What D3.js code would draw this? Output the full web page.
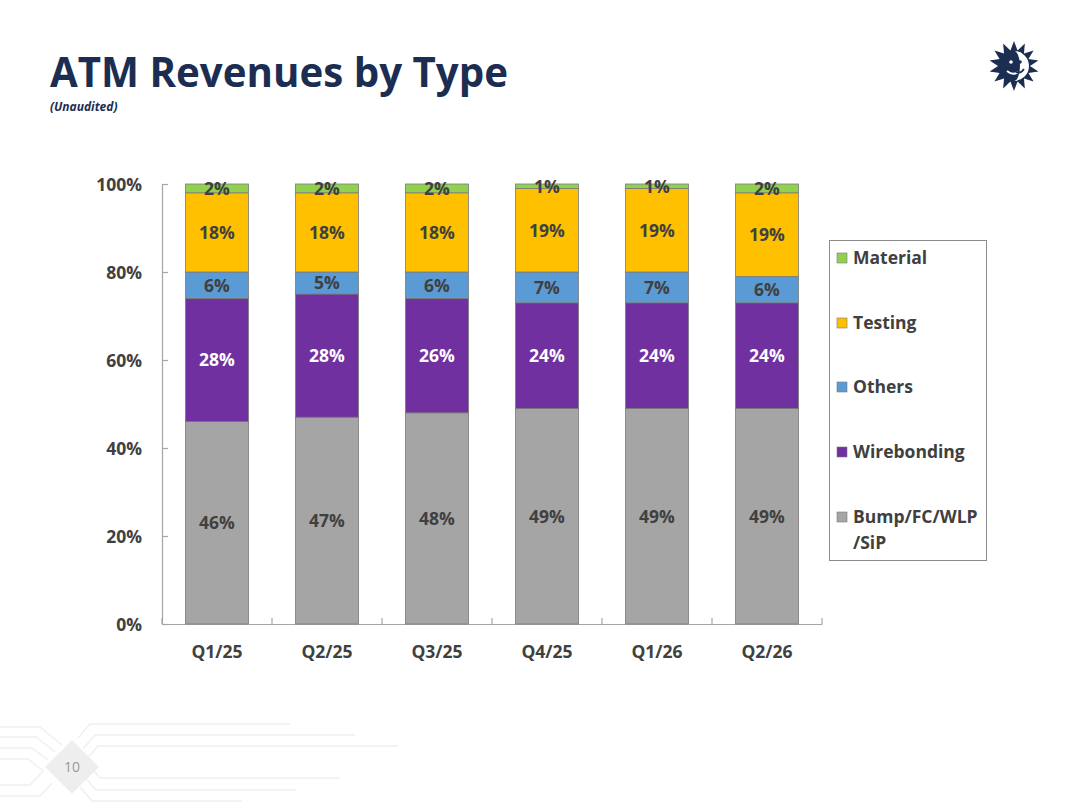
<!DOCTYPE html>
<html><head><meta charset="utf-8">
<script src="https://cdn.jsdelivr.net/npm/d3@7"></script>
<style>html,body{margin:0;padding:0;background:#fff;}svg{display:block;}</style>
</head><body>
<script>
const categories = ["Q1/25","Q2/25","Q3/25","Q4/25","Q1/26","Q2/26"];
const seriesNames = ["Bump/FC/WLP/SiP","Wirebonding","Others","Testing","Material"];
const bump = [46,47,48,49,49,49];
const wirebonding = [28,28,26,24,24,24];
const others = [6,5,6,7,7,6];
const testing = [18,18,18,19,19,19];
const material = [2,2,2,1,1,2];
const yTicks = [0,20,40,60,80,100];
const colors = ["#a5a5a5","#7030a0","#5b9bd5","#ffc000","#92d050"];
const labelColors = ["#404040","#ffffff","#404040","#404040","#404040"];
const legendOrder = ["Material","Testing","Others","Wirebonding","Bump/FC/WLP/SiP"];

const W=1080,H=810;
const FONT="'Open Sans', 'Noto Sans', sans-serif";
const svg=d3.select("body").append("svg").attr("width",W).attr("height",H);
svg.append("rect").attr("width",W).attr("height",H).attr("fill","#fff");

// bottom-left decoration
const deco=svg.append("g").attr("fill","none").attr("stroke","#f0f0f0").attr("stroke-width",1.5);
[[0,727,40,727,62,745],[0,737,36,737,55,752],[0,748,32,748,48,760],[0,759,28,759,42,770],[0,785,30,785,44,770],[0,796,40,796,52,783]].forEach(p=>{
  deco.append("polyline").attr("points",`${p[0]},${p[1]} ${p[2]},${p[3]} ${p[4]},${p[5]}`);
});
[[90,724,200],[95,735,260],[98,746,300],[100,778,240],[96,790,200],[92,801,150]].forEach((p,i)=>{
  const x0=p[0], y0=p[1];
  deco.append("polyline").attr("points",`${x0-12},${y0+(i<3?14:-14)} ${x0},${y0} ${x0+p[2]},${y0}`);
});
svg.append("rect").attr("x",-19).attr("y",-19).attr("width",38).attr("height",38)
  .attr("fill","#eeeeee").attr("transform","translate(72,767) rotate(45)");
svg.append("text").attr("x",72).attr("y",772).attr("text-anchor","middle")
  .attr("font-family",FONT).attr("font-size",14).attr("fill","#999").text("10");

// title
const title=svg.append("text").attr("x",50).attr("y",87).attr("font-family",FONT)
  .attr("font-weight",700).attr("font-size",40).attr("fill","#1c2d52").text("ATM Revenues by Type");
const tl=title.node().getComputedTextLength();
title.attr("font-size",40*458/tl);
svg.append("text").attr("x",50).attr("y",111).attr("font-family",FONT).attr("font-weight",700)
  .attr("font-style","italic").attr("font-size",12).attr("fill","#1c2d52").text("(Unaudited)");

// logo
const lg=svg.append("g").attr("transform","translate(1014,66)");
const pts=[];const N=14;
for(let i=0;i<2*N;i++){const r=i%2===0?25:16;const a=i*Math.PI/N-Math.PI/2;pts.push([r*Math.cos(a),r*Math.sin(a)]);}
lg.append("polygon").attr("points",pts.map(p=>p.join(",")).join(" ")).attr("fill","#1c2d52");
lg.append("path").attr("d","M0,-15 A15,15 0 0 1 0,15 A6,15 0 0 0 0,-15Z").attr("fill","#fff");
lg.append("circle").attr("cx",-3).attr("cy",-4).attr("r",1.8).attr("fill","#fff");
lg.append("path").attr("d","M-7,5 Q-1,10 4,6").attr("fill","none").attr("stroke","#fff").attr("stroke-width",2);
lg.append("circle").attr("cx",6).attr("cy",-4).attr("r",1.8).attr("fill","#1c2d52");
lg.append("path").attr("d","M2,6 Q7,8 10,3").attr("fill","none").attr("stroke","#1c2d52").attr("stroke-width",1.6);

// chart
const x0=162,x1=822,yTop=184,yBot=624;
const x=d3.scaleBand().domain(categories).range([x0,x1]).paddingInner(0.427).paddingOuter(0.2135);
const y=d3.scaleLinear().domain([0,100]).range([yBot,yTop]);

const rows=categories.map((c,i)=>({cat:c,"Bump/FC/WLP/SiP":bump[i],"Wirebonding":wirebonding[i],"Others":others[i],"Testing":testing[i],"Material":material[i]}));
const stack=d3.stack().keys(seriesNames)(rows);

// axes
const yAxis=svg.append("g").attr("transform",`translate(${x0},0)`)
  .call(d3.axisLeft(y).tickValues(yTicks).tickFormat(d=>d+"%").tickSizeInner(-6).tickSizeOuter(-6).tickPadding(20));
yAxis.select(".domain").attr("stroke","#a6a6a6").attr("stroke-width",1.2);
yAxis.selectAll(".tick line").attr("stroke","#a6a6a6").attr("stroke-width",1.2);
yAxis.selectAll(".tick text").attr("font-family",FONT).attr("font-weight",700).attr("font-size",17.5).attr("fill","#404040").attr("dy","0.35em");

const xAxis=svg.append("g").attr("transform",`translate(0,${yBot})`)
  .call(d3.axisBottom(x).tickSize(0).tickPadding(22));
xAxis.select(".domain").attr("stroke","#a6a6a6").attr("stroke-width",1.2);
xAxis.selectAll(".tick text").attr("font-family",FONT).attr("font-weight",700).attr("font-size",17.5).attr("fill","#404040");
const step=x.step();
svg.append("g").selectAll("line").data(d3.range(categories.length+1)).join("line")
  .attr("x1",i=>x0+i*step).attr("x2",i=>x0+i*step).attr("y1",yBot).attr("y2",yBot-6)
  .attr("stroke","#a6a6a6").attr("stroke-width",1.2);

// bars
const layers=svg.append("g").selectAll("g").data(stack).join("g")
  .attr("fill",(d,i)=>colors[i]);
layers.selectAll("rect").data(d=>d).join("rect")
  .attr("x",d=>x(d.data.cat)).attr("width",x.bandwidth())
  .attr("y",d=>y(d[1])).attr("height",d=>y(d[0])-y(d[1]))
  .attr("stroke","#7a7a7a").attr("stroke-width",0.8);

// labels
const lab=svg.append("g").selectAll("g").data(stack).join("g");
lab.each(function(s,si){
  d3.select(this).selectAll("text").data(s).join("text")
    .attr("x",d=>x(d.data.cat)+x.bandwidth()/2)
    .attr("y",d=>(y(d[0])+y(d[1]))/2)
    .attr("dy","0.36em").attr("text-anchor","middle")
    .attr("font-family",FONT).attr("font-weight",700).attr("font-size",17.5)
    .attr("fill",labelColors[si]).text(d=>(d[1]-d[0])+"%");
});

// legend
svg.append("rect").attr("x",829.5).attr("y",240.5).attr("width",157).attr("height",320)
  .attr("fill","#fff").attr("stroke","#8c8c8c").attr("stroke-width",1);
const legY=[258,323,387,452,517];
const lgd=svg.append("g").selectAll("g").data(legendOrder).join("g")
  .attr("transform",(d,i)=>`translate(837,${legY[i]})`);
lgd.append("rect").attr("x",0).attr("y",-5).attr("width",10).attr("height",10)
  .attr("fill",d=>colors[seriesNames.indexOf(d)]).attr("stroke","#7a7a7a").attr("stroke-width",0.6);
lgd.each(function(d){
  const t=d3.select(this).append("text").attr("x",16).attr("y",0).attr("dy","0.36em")
    .attr("font-family",FONT).attr("font-weight",700).attr("font-size",17.5).attr("fill","#404040");
  if(d==="Bump/FC/WLP/SiP"){
    t.append("tspan").attr("x",16).text("Bump/FC/WLP");
    t.append("tspan").attr("x",16).attr("dy","1.45em").text("/SiP");
  } else t.text(d);
});
</script>
</body></html>
